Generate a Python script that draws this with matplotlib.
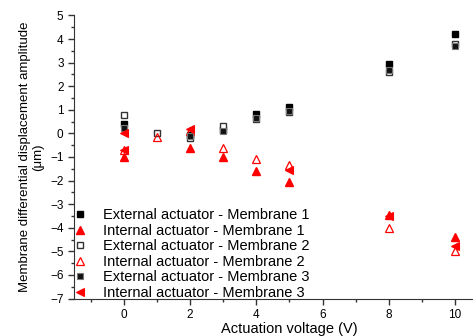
import numpy as np
import matplotlib.pyplot as plt
from matplotlib.ticker import MultipleLocator

plt.rcParams['font.family'] = ['Liberation Sans', 'DejaVu Sans']

# external actuator (squares)
ext1_x = [0, 2, 3, 4, 5, 8, 10]
ext1_y = [0.4, -0.05, 0.15, 0.82, 1.1, 2.95, 4.2]
ext2_x = [0, 1, 2, 3, 4, 5, 8, 10]
ext2_y = [0.8, 0.0, -0.2, 0.3, 0.6, 0.9, 2.6, 3.8]
ext3_x = [0, 2, 3, 4, 5, 8, 10]
ext3_y = [0.25, -0.1, 0.12, 0.65, 0.95, 2.7, 3.72]

# internal actuator (triangles)
int1_x = [0, 2, 3, 4, 5, 8, 10]
int1_y = [-1.0, -0.6, -1.0, -1.6, -2.07, -3.45, -4.38]
int2_x = [0, 1, 2, 3, 4, 5, 8, 10]
int2_y = [-0.7, -0.15, 0.1, -0.6, -1.1, -1.35, -4.0, -4.97]
int3_x = [0, 0, 2, 5, 8, 10]
int3_y = [0.0, -0.7, 0.2, -1.55, -3.5, -4.78]

labels = ['External actuator - Membrane 1', 'Internal actuator - Membrane 1',
          'External actuator - Membrane 2', 'Internal actuator - Membrane 2',
          'External actuator - Membrane 3', 'Internal actuator - Membrane 3']

fig = plt.figure(figsize=(4.73, 3.36), dpi=100)
ax = fig.add_axes([0.1564, 0.1116, 0.911, 0.8423])

ax.plot(ext1_x, ext1_y, 's', ms=4.3, mfc='black', mec='black', label=labels[0])
ax.plot(int1_x, int1_y, '^', ms=5.8, mfc='red', mec='red', label=labels[1])
ax.plot(ext2_x, ext2_y, 's', ms=4.3, mfc='white', mec='#333333', mew=1, label=labels[2])
ax.plot(int2_x, int2_y, '^', ms=5.8, mfc='none', mec='red', mew=0.9, label=labels[3])
ax.plot(ext3_x, ext3_y, 's', ms=4.3, mfc='#111111', mec='#777777', mew=0.8, label=labels[4])
ax.plot(int3_x, int3_y, '<', ms=5.8, mfc='red', mec='red', mew=0.8, label=labels[5])

ax.set_xlim(-1.5, 11.5)
ax.set_ylim(-7, 5)
ax.xaxis.set_major_locator(MultipleLocator(2))
ax.xaxis.set_minor_locator(MultipleLocator(1))
ax.yaxis.set_major_locator(MultipleLocator(1))
ax.yaxis.set_minor_locator(MultipleLocator(0.5))
ax.tick_params(which='major', direction='out', length=4, width=1, labelsize=8.5, color='#333333')
ax.tick_params(which='minor', direction='out', length=2, width=1, color='#333333')

for s in ['top', 'right']:
    ax.spines[s].set_visible(False)
for s in ['left', 'bottom']:
    ax.spines[s].set_color('#333333')

ax.set_xlabel('Actuation voltage (V)', fontsize=10.5, labelpad=1)
ax.set_ylabel('Membrane differential displacement amplitude\n(μm)', fontsize=9.5, labelpad=4)

ax.legend(loc='lower left', bbox_to_anchor=(-0.026, -0.04), frameon=False, fontsize=10.5,
          handlelength=1.0, handletextpad=1.05, labelspacing=0.1, borderpad=0.2, numpoints=1)

fig.savefig('out.png', dpi=100)
